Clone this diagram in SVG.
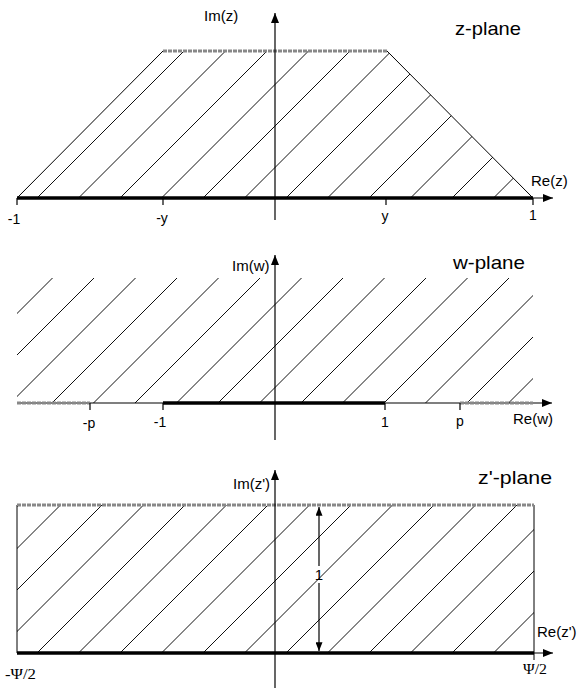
<svg xmlns="http://www.w3.org/2000/svg" width="579" height="690" viewBox="0 0 579 690">
<style>
text{font-family:"Liberation Sans",Arial,sans-serif;fill:#000}
.ser{font-family:"Liberation Serif","Times New Roman",serif}
.hatch line{stroke:#111;stroke-width:1}
.thin{stroke:#000;stroke-width:1;fill:none}
.thick{stroke:#000;stroke-width:3.5}
.grey{stroke:#888;stroke-width:3;stroke-dasharray:4 1}
.ax{stroke:#000;stroke-width:1.2;fill:none}
.lbl{font-size:15px}
.tk{font-size:14px;text-anchor:middle}
.pl{font-size:19px}
</style>
<defs>
<marker id="ah" viewBox="0 0 10 8" refX="10" refY="4" markerWidth="10" markerHeight="8" markerUnits="userSpaceOnUse" orient="auto">
<path d="M0,0 L10,4 L0,8 z" fill="#000"/>
</marker>
<marker id="ahs" viewBox="0 0 10 8" refX="10" refY="4" markerWidth="9" markerHeight="7" markerUnits="userSpaceOnUse" orient="auto-start-reverse">
<path d="M0,0 L10,4 L0,8 z" fill="#000"/>
</marker>
<clipPath id="c1"><polygon points="17,198 163,51 387,51 533,198"/></clipPath>
<clipPath id="c2"><rect x="17" y="278" width="516" height="125"/></clipPath>
<clipPath id="c3"><rect x="17" y="505" width="517" height="148"/></clipPath>
</defs>

<g id="z-plane">
  <g class="hatch" clip-path="url(#c1)">
    <line x1="37" y1="198" x2="197" y2="38"/>
    <line x1="78.5" y1="198" x2="238.5" y2="38"/>
    <line x1="120" y1="198" x2="280" y2="38"/>
    <line x1="161.5" y1="198" x2="321.5" y2="38"/>
    <line x1="203" y1="198" x2="363" y2="38"/>
    <line x1="244.5" y1="198" x2="404.5" y2="38"/>
    <line x1="286" y1="198" x2="446" y2="38"/>
    <line x1="327.5" y1="198" x2="487.5" y2="38"/>
    <line x1="369" y1="198" x2="529" y2="38"/>
    <line x1="410.5" y1="198" x2="570.5" y2="38"/>
    <line x1="452" y1="198" x2="612" y2="38"/>
    <line x1="493.5" y1="198" x2="653.5" y2="38"/>
  </g>
  <line class="thin" x1="17" y1="198" x2="163" y2="51"/>
  <line class="thin" x1="387" y1="51" x2="533" y2="198"/>
  <line class="grey" x1="163" y1="51" x2="387" y2="51"/>
  <line class="ax" x1="17" y1="198" x2="553" y2="198" marker-end="url(#ah)"/>
  <line class="thick" x1="17" y1="198" x2="533" y2="198"/>
  <line class="ax" x1="275" y1="220" x2="275" y2="13" marker-end="url(#ah)"/>
  <g class="ax">
    <line x1="17" y1="198" x2="17" y2="205"/>
    <line x1="163" y1="198" x2="163" y2="205"/>
    <line x1="386" y1="198" x2="386" y2="205"/>
    <line x1="533" y1="198" x2="533" y2="205"/>
  </g>
  <text class="tk" x="14" y="224">-1</text>
  <text class="tk" x="162" y="223">-y</text>
  <text class="tk" x="385" y="221">y</text>
  <text class="tk" x="533" y="220">1</text>
  <text class="lbl" x="531" y="186">Re(z)</text>
  <text class="lbl" x="204" y="21" font-size="16">Im(z)</text>
  <text class="pl" x="455" y="35" textLength="66" lengthAdjust="spacingAndGlyphs">z-plane</text>
</g>

<g id="w-plane">
  <g class="hatch" clip-path="url(#c2)">
    <line x1="-72.5" y1="403" x2="87.5" y2="243"/>
    <line x1="-31" y1="403" x2="129" y2="243"/>
    <line x1="10.5" y1="403" x2="170.5" y2="243"/>
    <line x1="52" y1="403" x2="212" y2="243"/>
    <line x1="93.5" y1="403" x2="253.5" y2="243"/>
    <line x1="135" y1="403" x2="295" y2="243"/>
    <line x1="176.5" y1="403" x2="336.5" y2="243"/>
    <line x1="218" y1="403" x2="378" y2="243"/>
    <line x1="259.5" y1="403" x2="419.5" y2="243"/>
    <line x1="301" y1="403" x2="461" y2="243"/>
    <line x1="342.5" y1="403" x2="502.5" y2="243"/>
    <line x1="384" y1="403" x2="544" y2="243"/>
    <line x1="425.5" y1="403" x2="585.5" y2="243"/>
    <line x1="467" y1="403" x2="627" y2="243"/>
    <line x1="508.5" y1="403" x2="668.5" y2="243"/>
  </g>
  <line class="ax" x1="17" y1="403" x2="552" y2="403" marker-end="url(#ah)"/>
  <line class="grey" x1="17" y1="403" x2="90" y2="403"/>
  <line class="grey" x1="460" y1="403" x2="533" y2="403"/>
  <line class="thick" x1="163" y1="403" x2="385" y2="403"/>
  <line class="ax" x1="275" y1="440" x2="275" y2="255" marker-end="url(#ah)"/>
  <g class="ax">
    <line x1="90" y1="403" x2="90" y2="410"/>
    <line x1="163" y1="403" x2="163" y2="410"/>
    <line x1="385" y1="403" x2="385" y2="410"/>
    <line x1="460" y1="403" x2="460" y2="410"/>
  </g>
  <text class="tk" x="89" y="428">-p</text>
  <text class="tk" x="160" y="427">-1</text>
  <text class="tk" x="385" y="427">1</text>
  <text class="tk" x="460" y="426">p</text>
  <text class="lbl" x="513" y="424">Re(w)</text>
  <text class="lbl" x="232" y="271">Im(w)</text>
  <text class="pl" x="453" y="269" textLength="72" lengthAdjust="spacingAndGlyphs">w-plane</text>
</g>

<g id="z-prime-plane">
  <g class="hatch" clip-path="url(#c3)">
    <line x1="-129" y1="653" x2="31" y2="493"/>
    <line x1="-87.5" y1="653" x2="72.5" y2="493"/>
    <line x1="-46" y1="653" x2="114" y2="493"/>
    <line x1="-4.5" y1="653" x2="155.5" y2="493"/>
    <line x1="37" y1="653" x2="197" y2="493"/>
    <line x1="78.5" y1="653" x2="238.5" y2="493"/>
    <line x1="120" y1="653" x2="280" y2="493"/>
    <line x1="161.5" y1="653" x2="321.5" y2="493"/>
    <line x1="203" y1="653" x2="363" y2="493"/>
    <line x1="244.5" y1="653" x2="404.5" y2="493"/>
    <line x1="286" y1="653" x2="446" y2="493"/>
    <line x1="327.5" y1="653" x2="487.5" y2="493"/>
    <line x1="369" y1="653" x2="529" y2="493"/>
    <line x1="410.5" y1="653" x2="570.5" y2="493"/>
    <line x1="452" y1="653" x2="612" y2="493"/>
    <line x1="493.5" y1="653" x2="653.5" y2="493"/>
  </g>
  <line class="thin" x1="17" y1="505" x2="17" y2="653"/>
  <line class="thin" x1="534" y1="505" x2="534" y2="660"/>
  <line class="grey" x1="17" y1="505" x2="534" y2="505"/>
  <line class="ax" x1="17" y1="653" x2="553" y2="653" marker-end="url(#ah)"/>
  <line class="thick" x1="17" y1="653" x2="534" y2="653"/>
  <line class="ax" x1="275" y1="688" x2="275" y2="470" marker-end="url(#ah)"/>
  <line class="ax" x1="319" y1="507" x2="319" y2="566" marker-start="url(#ahs)"/>
  <line class="ax" x1="319" y1="583" x2="319" y2="651" marker-end="url(#ahs)"/>
  <text class="lbl" x="319" y="580" text-anchor="middle">1</text>
  <text class="lbl" x="537" y="637">Re(z')</text>
  <text class="lbl" x="233" y="489">Im(z')</text>
  <text class="pl" x="478" y="484" textLength="74" lengthAdjust="spacingAndGlyphs">z'-plane</text>
  <text class="ser" x="5" y="679" font-size="14" textLength="31" lengthAdjust="spacingAndGlyphs">-Ψ/2</text>
  <text class="ser" x="523" y="674" font-size="14" textLength="24" lengthAdjust="spacingAndGlyphs">Ψ/2</text>
</g>
</svg>
